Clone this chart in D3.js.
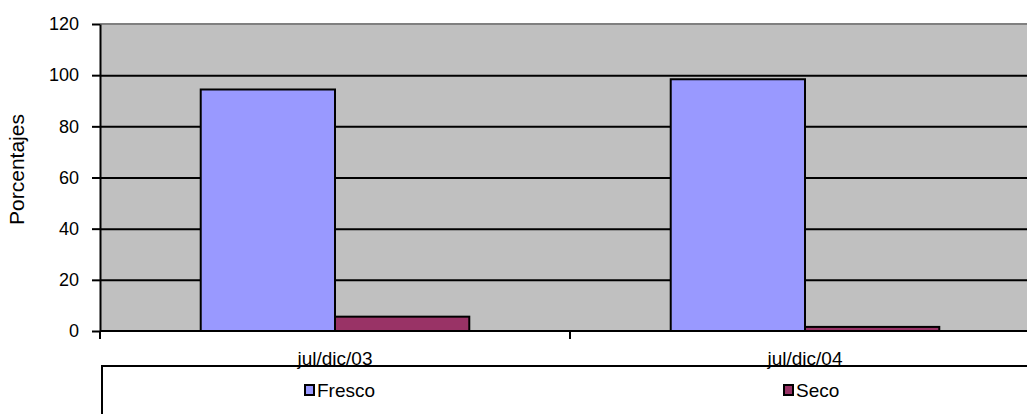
<!DOCTYPE html>
<html><head><meta charset="utf-8">
<script src="https://cdn.jsdelivr.net/npm/d3@7"></script>
<style>
body{margin:0;background:#fff}
svg{display:block}
text{font-family:Arial,"Liberation Sans",sans-serif;fill:#000}
</style>
</head><body><svg id="c" width="1027" height="414"></svg>
<script>
const categories = ["jul/dic/03", "jul/dic/04"];
const seriesNames = ["Fresco", "Seco"];
const fresco = [94.4, 98.4];
const seco = [5.6, 1.6];
const yTickValues = [0, 20, 40, 60, 80, 100, 120];
const yTitle = "Porcentajes";
const seriesColors = ["#9999FF", "#993366"];

const svg = d3.select("#c");
const W = 1027, H = 414;
const plot = {left: 100, right: 1040, top: 24, bottom: 331};

const y = d3.scaleLinear().domain([0, 120]).range([plot.bottom, plot.top]);
const x0 = d3.scaleBand().domain(categories).range([plot.left, plot.right]).padding(0);
const bw = x0.bandwidth();
const gapFrac = 0.2143;
const x1 = d3.scaleBand().domain(seriesNames).range([bw * gapFrac, bw * (1 - gapFrac)]).padding(0);
const color = d3.scaleOrdinal().domain(seriesNames).range(seriesColors);

const rows = categories.map((c, i) => ({cat: c, values: [
  {s: seriesNames[0], v: fresco[i]},
  {s: seriesNames[1], v: seco[i]}
]}));

svg.append("rect").attr("width", W).attr("height", H).attr("fill", "#fff");

// plot background
svg.append("rect")
  .attr("x", plot.left).attr("y", plot.top)
  .attr("width", plot.right - plot.left).attr("height", plot.bottom - plot.top)
  .attr("fill", "#C0C0C0");

// top border
svg.append("line")
  .attr("x1", plot.left).attr("x2", plot.right)
  .attr("y1", plot.top).attr("y2", plot.top)
  .attr("stroke", "#808080").attr("stroke-width", 2);

// gridlines
const grid = svg.append("g").attr("transform", `translate(${plot.left},0)`)
  .call(d3.axisLeft(y).tickValues(yTickValues.filter(v => v > 0 && v < 120)).tickSize(-(plot.right - plot.left)).tickFormat(""));
grid.select(".domain").remove();
grid.selectAll(".tick line").attr("stroke", "#000").attr("stroke-width", 2);

// bars
const groups = svg.append("g").selectAll("g").data(rows).join("g")
  .attr("transform", d => `translate(${x0(d.cat)},0)`);
groups.selectAll("rect").data(d => d.values).join("rect")
  .attr("x", d => x1(d.s))
  .attr("y", d => y(d.v))
  .attr("width", x1.bandwidth())
  .attr("height", d => y(0) - y(d.v))
  .attr("fill", d => color(d.s))
  .attr("stroke", "#000").attr("stroke-width", 2);

// y axis
const yAxis = svg.append("g").attr("transform", `translate(${plot.left},0)`)
  .call(d3.axisLeft(y).tickValues(yTickValues).tickSize(8).tickPadding(13).tickSizeOuter(0));
yAxis.attr("font-size", null).attr("font-family", null);
yAxis.select(".domain").attr("stroke", "#000").attr("stroke-width", 2);
yAxis.selectAll(".tick line").attr("stroke", "#000").attr("stroke-width", 2);
yAxis.selectAll(".tick text").style("font-size", "18px").attr("fill", "#000");

// x axis line + boundary ticks
const xAxis = svg.append("g").attr("transform", `translate(0,${plot.bottom})`);
xAxis.append("line").attr("x1", plot.left).attr("x2", plot.right).attr("y1", 0).attr("y2", 0)
  .attr("stroke", "#000").attr("stroke-width", 2);
const bounds = categories.map(c => x0(c)).concat([x0(categories[categories.length - 1]) + bw]);
xAxis.selectAll("line.tk").data(bounds).join("line").attr("class", "tk")
  .attr("x1", d => d).attr("x2", d => d).attr("y1", 0).attr("y2", 8)
  .attr("stroke", "#000").attr("stroke-width", 2);

// legend box
const legY = 366;
svg.append("rect").attr("x", 102).attr("y", legY).attr("width", 1000).attr("height", 100)
  .attr("fill", "#fff").attr("stroke", "#000").attr("stroke-width", 2);

// category labels
svg.append("g").selectAll("text").data(categories).join("text")
  .attr("x", d => x0(d) + bw / 2).attr("y", 365)
  .attr("text-anchor", "middle").style("font-size", "19px")
  .text(d => d);

// legend entries
const legPos = [304, 783];
const leg = svg.append("g").selectAll("g").data(seriesNames).join("g")
  .attr("transform", (d, i) => `translate(${legPos[i]},384)`);
leg.append("rect").attr("x", 1).attr("y", 1).attr("width", 9).attr("height", 10)
  .attr("fill", d => color(d)).attr("stroke", "#000").attr("stroke-width", 2);
leg.append("text").attr("x", 13).attr("y", 13).style("font-size", "19px").text(d => d);

// y title
svg.append("text").attr("transform", `translate(24,${(plot.top + plot.bottom) / 2 - 8}) rotate(-90)`)
  .attr("text-anchor", "middle").style("font-size", "21px").text(yTitle);
</script>
</body></html>
